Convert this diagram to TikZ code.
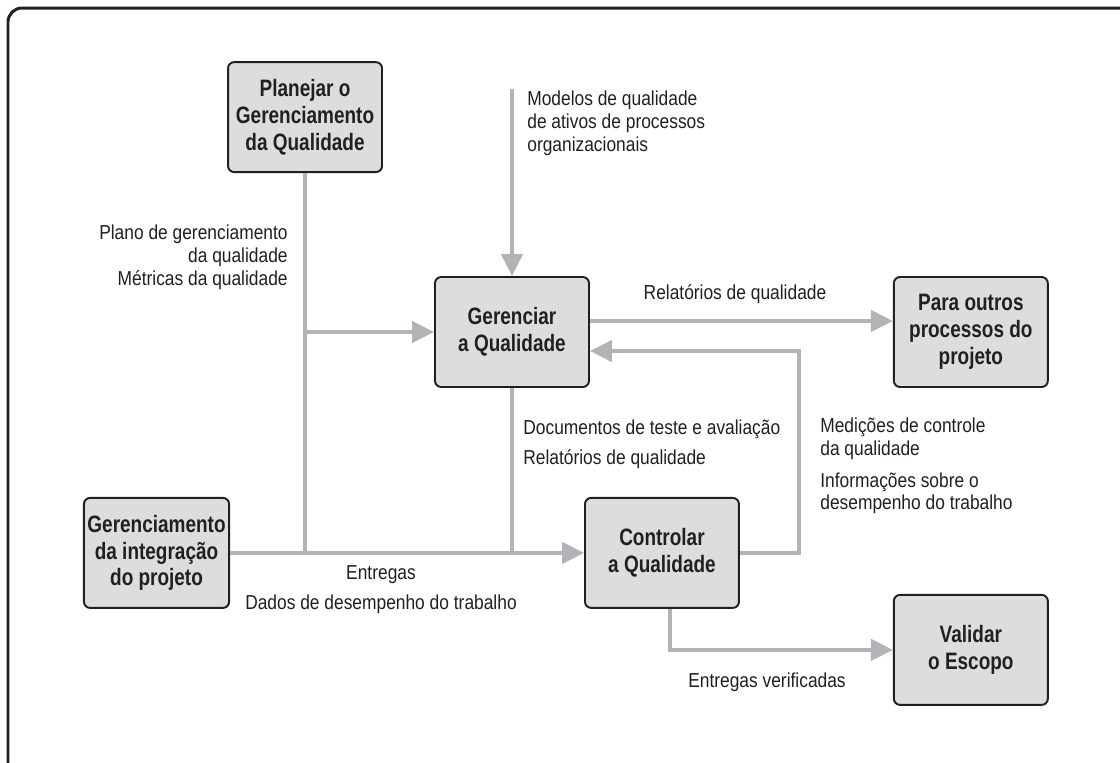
\documentclass[tikz,border=0pt]{standalone}
\usepackage{fontspec}
\setmainfont{Liberation Sans}[FakeStretch=0.86]
\newfontfamily\boxfont{Liberation Sans}[FakeStretch=0.8]
\usepackage{tikz}
\usetikzlibrary{positioning,arrows.meta}

\definecolor{boxfill}{HTML}{DCDDDF}
\definecolor{ink}{HTML}{231F20}
\definecolor{flowgray}{HTML}{B1B3B6}

\begin{document}
\begin{tikzpicture}[
    x=0.02cm, y=-0.02cm,
    font=\fontsize{11.5}{13}\selectfont, text=ink,
    node distance=2.2cm and 6cm,
    box/.style={draw=ink, line width=1.1pt, rounded corners=3.5pt, fill=boxfill, align=center, inner sep=2pt, minimum width=3.08cm, minimum height=2.2cm, font=\boxfont\bfseries\fontsize{13.5}{15.3}\selectfont},
    flow/.style={draw=flowgray, line width=2.3pt},
    arrow/.style={flow, -{Triangle[length=12.5pt, width=12pt]}},
    lbl/.style={inner sep=0pt, align=left}
]
\useasboundingbox (0,0) rectangle (1120,762);
\draw[ink, line width=1.7pt, rounded corners=8pt] (8,800) -- (8,8) -- (1150,8);

\node[box] (manage) at (512,332) {Gerenciar\\a Qualidade};
\node[box, right=6.06cm of manage] (other) {Para outros\\processos do\\projeto};
\node[box, above=2.06cm of manage, xshift=-4.14cm] (plan) {Planejar o\\Gerenciamento\\da Qualidade};
\node[box, below=2.18cm of manage, xshift=3cm] (control) {Controlar\\a Qualidade};
\node[box, below=4.12cm of other] (validate) {Validar\\o Escopo};
\node[box, minimum width=2.88cm, left=7.08cm of control] (integ) {Gerenciamento\\da integração\\do projeto};

\coordinate (src) at ([yshift=3.74cm]manage.north);

% connectors
\draw[flow] (plan.south) -- (plan.south |- integ.east);
\draw[arrow] (plan.south |- manage.west) -- (manage.west);
\draw[flow] (manage.south) -- (manage.south |- integ.east);
\draw[arrow] (integ.east) -- (integ.east -| control.west);
\draw[arrow] (src) -- (manage.north);
\draw[arrow] ([yshift=0.22cm]manage.east) -- ([yshift=0.22cm]manage.east -| other.west);
\draw[arrow] (control.east) -- ++(59,0) |- ([yshift=-0.38cm]manage.east);
\draw[arrow] ([xshift=0.16cm]control.south) |- (validate.west);

% labels
\node[lbl, anchor=west] (modelslbl) at (527,123) {Modelos de qualidade\\de ativos de processos\\organizacionais};
\node[lbl, align=right, anchor=east] (planlbl) at (288,257) {Plano de gerenciamento\\da qualidade\\Métricas da qualidade};
\node[lbl] (reportlbl) at (735,294) {Relatórios de qualidade};
\node[lbl, anchor=west] (testlbl) at (523,444) {Documentos de teste e avaliação\\[4pt]Relatórios de qualidade};
\node[lbl, anchor=west] (measurelbl) at (820,466) {Medições de controle\\da qualidade\\[5pt]Informações sobre o\\desempenho do trabalho};
\node[lbl, align=center] (delivlbl) at (381,590) {Entregas\\[4pt]Dados de desempenho do trabalho};
\node[lbl] (verifiedlbl) at (767,682) {Entregas verificadas};
\end{tikzpicture}
\end{document}
